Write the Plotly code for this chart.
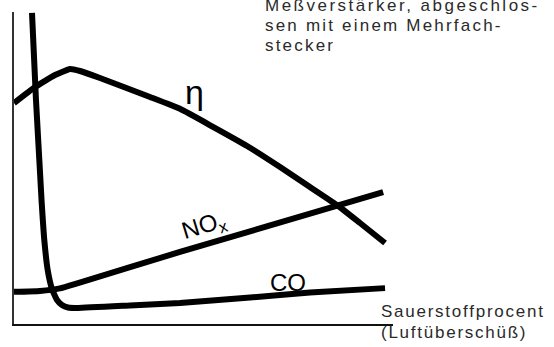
"""Schematic: efficiency (eta), NOx and CO against oxygen percentage (air excess)."""
import plotly.graph_objects as go

# curve values, arbitrary units (x: Sauerstoffprocent, y: relative level)
CO_X = [4.75, 5.8, 6.86, 7.31, 7.92, 8.89, 10.03, 11.35, 12.66, 14.25, 16.89, 30.6, 43.8, 62.3, 78.1, 97.9]
CO_Y = [99.7, 71.8, 48.7, 38.8, 27.9, 17.3, 11.2, 7.69, 6.09, 5.29, 5.13, 5.93, 6.73, 8.49, 10.1, 11.5]
ETA_X = [0, 5.54, 10.82, 14.78, 17.41, 22.69, 35.88, 43.8, 52.5, 61.5, 70.2, 77.3, 85.2, 91.3, 97.9]
ETA_Y = [70.8, 75.96, 79.8, 81.73, 81.09, 78.85, 72.76, 68.96, 63.2, 57.05, 50.3, 44.55, 38.14, 32.37, 25.96]
NOX_X = [0, 6.86, 12.1, 16.9, 43.8, 97.4]
NOX_Y = [10.3, 10.6, 11.4, 13.1, 23.1, 42.3]

NOTE_LINES = ["Meßverstärker, abgeschlos-", "sen mit einem Mehrfach-", "stecker"]
X_LABEL = ["Sauerstoffprocent", "(Luftüberschüß)"]

INK = "#000000"
TXT = "#2a2a2a"
FONT = "Liberation Sans, Arial, sans-serif"


def spaced(s, ls):
    return '<span style="letter-spacing:' + str(ls) + 'px">' + s + "</span>"


fig = go.Figure()
for xs, ys in [(CO_X, CO_Y), (ETA_X, ETA_Y), (NOX_X, NOX_Y)]:
    fig.add_trace(go.Scatter(x=xs, y=ys, mode="lines", showlegend=False, hoverinfo="skip",
                             line=dict(color=INK, width=6, shape="spline", smoothing=0.4)))

# curve labels
fig.add_annotation(x=47.5, y=74.3, text="η", showarrow=False,
                   font=dict(family=FONT, size=34, color=INK))
fig.add_annotation(x=50.2, y=31.2, text="NO<sub>x</sub>", showarrow=False, textangle=-17,
                   font=dict(family=FONT, size=24, color=INK))
fig.add_annotation(x=72.3, y=13.3, text="CO", showarrow=False,
                   font=dict(family=FONT, size=24, color=INK))

# note, top right (first line is cut by the top edge, as in the original)
for i, (line, ls) in enumerate(zip(NOTE_LINES, [2.5, 2.2, 2.2])):
    fig.add_annotation(xref="paper", yref="paper", x=0.657, y=1.022 - i * 0.065,
                       xanchor="left", yanchor="middle", showarrow=False,
                       text=spaced(line, ls), font=dict(family=FONT, size=17, color=TXT))

# x-axis label, two lines
for i, line in enumerate(X_LABEL):
    fig.add_annotation(xref="paper", yref="paper", x=0.962, y=0.039 - i * 0.066,
                       xanchor="left", yanchor="middle", showarrow=False,
                       text=spaced(line, 1.75), font=dict(family=FONT, size=17, color=TXT))

fig.update_xaxes(range=[0, 100], showgrid=False, zeroline=False, showticklabels=False, ticks="",
                 showline=True, linecolor="#111111", linewidth=2)
fig.update_yaxes(range=[0, 100], showgrid=False, zeroline=False, showticklabels=False, ticks="",
                 showline=True, linecolor="#333333", linewidth=1.5)
fig.update_layout(width=554, height=347, margin=dict(l=14, r=161, t=12, b=23),
                  paper_bgcolor="white", plot_bgcolor="white")
fig.write_html("out.html", config={"displayModeBar": False},
               post_script="document.body.style.margin='0';")
